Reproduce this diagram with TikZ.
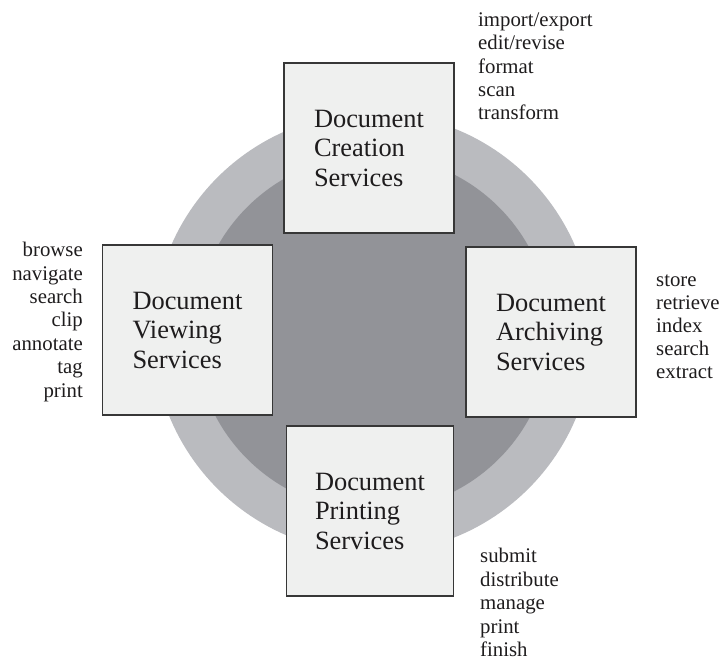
\documentclass[tikz,border=0pt]{standalone}
\usepackage{fontspec}
\setmainfont{Liberation Serif}
\definecolor{ringout}{RGB}{186,187,191}
\definecolor{ringin}{RGB}{146,147,152}
\definecolor{boxfill}{RGB}{239,240,239}
\definecolor{boxline}{RGB}{55,55,55}
\definecolor{ink}{RGB}{30,28,29}
\tikzset{
  svcbox/.style={draw=boxline, fill=boxfill, line width=1.2pt, rectangle,
    minimum width=170pt, minimum height=170pt, inner xsep=30pt, inner ysep=0pt,
    text width=110pt, align=left, text=ink,
    font=\fontsize{26.4}{29.5}\selectfont},
  listtxt/.style={inner sep=0pt, text=ink, font=\fontsize{20.8}{23.4}\selectfont}
}
\begin{document}
\begin{tikzpicture}[x=1pt,y=-1pt]
\useasboundingbox (0,0) rectangle (720,660);
\fill[ringout] (373,333) circle (220);
\fill[ringin] (373,333) circle (178);
\node[svcbox] (create) at (369,148) {Document\\Creation\\Services};
\node[svcbox] (view) at (187.5,330) {Document\\Viewing\\Services};
\node[svcbox] (archive) at (551,332) {Document\\Archiving\\Services};
\node[svcbox, minimum width=167pt, inner xsep=28.5pt] (print) at (370,511) {Document\\Printing\\Services};
\node[listtxt, anchor=base west, align=left] (createlist) at (478,120) {import/export\\edit/revise\\format\\scan\\transform};
\node[listtxt, anchor=base east, align=right] (viewlist) at (83,397) {browse\\navigate\\search\\clip\\annotate\\tag\\print};
\node[listtxt, anchor=base west, align=left, font=\fontsize{20.8}{23}\selectfont] (archivelist) at (656,378) {store\\retrieve\\index\\search\\extract};
\node[listtxt, anchor=base west, align=left] (printlist) at (480,656.5) {submit\\distribute\\manage\\print\\finish};
\end{tikzpicture}
\end{document}
